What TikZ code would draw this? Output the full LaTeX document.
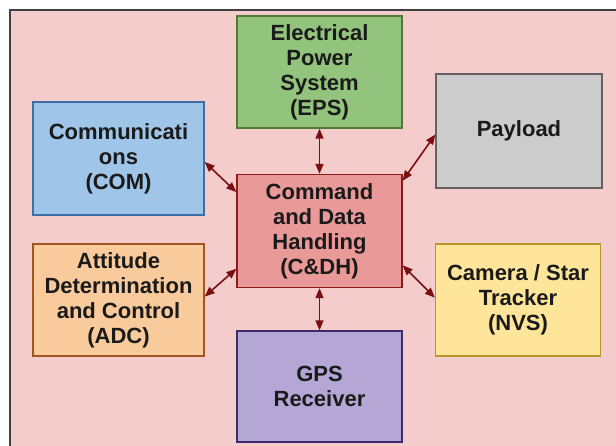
\documentclass[tikz,border=0pt]{standalone}
\usepackage{fontspec}
\setmainfont{Liberation Sans}
\usetikzlibrary{arrows.meta,calc}

\definecolor{bgpink}{HTML}{F4CCCC}
\definecolor{linkred}{HTML}{7A0F0F}
\definecolor{txtdark}{HTML}{1A1A1A}
\definecolor{epsfill}{HTML}{93C47D}\definecolor{epsline}{HTML}{4E7A32}
\definecolor{payfill}{HTML}{CCCCCC}\definecolor{payline}{HTML}{666060}
\definecolor{comfill}{HTML}{9FC5E8}\definecolor{comline}{HTML}{3D6FA6}
\definecolor{cdhfill}{HTML}{EA9999}\definecolor{cdhline}{HTML}{8E1B1B}
\definecolor{adcfill}{HTML}{F9CB9C}\definecolor{adcline}{HTML}{A0561C}
\definecolor{nvsfill}{HTML}{FFE599}\definecolor{nvsline}{HTML}{B8962E}
\definecolor{gpsfill}{HTML}{B4A7D6}\definecolor{gpsline}{HTML}{3E2A6E}

\tikzset{
  block/.style={draw, line width=1.3pt, align=center, inner sep=0pt,
    text=txtdark, font=\fontsize{22}{25}\selectfont\bfseries},
  link/.style={draw=linkred, line width=1.6pt,
    {Triangle[length=10pt,width=8pt]}-{Triangle[length=10pt,width=8pt]}}
}

\begin{document}
\begin{tikzpicture}[x=1pt,y=-1pt]
\useasboundingbox (0,0) rectangle (616,445);
\fill[white] (0,0) rectangle (616,445);
\begin{scope}
\clip (0,0) rectangle (616,445);
\draw[fill=bgpink, draw=black!75, line width=1.3pt] (10,10) rectangle (640,470);
\end{scope}

% subsystem blocks
\node[block, fill=epsfill, draw=epsline,
  minimum width=165pt, minimum height=112pt] (eps) at (319.5,72)
  {Electrical\\Power\\System\\(EPS)};
\node[block, fill=payfill, draw=payline,
  minimum width=166pt, minimum height=114pt] (pay) at (519,131)
  {Payload};
\node[block, fill=comfill, draw=comline,
  minimum width=171pt, minimum height=113pt] (com) at (118.5,158.5)
  {Communicati\\ons\\(COM)};
\node[block, fill=cdhfill, draw=cdhline,
  minimum width=165pt, minimum height=113pt] (cdh) at (319.5,231)
  {Command\\and Data\\Handling\\(C\&DH)};
\node[block, fill=adcfill, draw=adcline,
  minimum width=171pt, minimum height=112pt] (adc) at (118.5,300)
  {Attitude\\Determination\\and Control\\(ADC)};
\node[block, fill=nvsfill, draw=nvsline,
  minimum width=165pt, minimum height=112pt] (nvs) at (518,300)
  {Camera / Star\\Tracker\\(NVS)};
\node[block, fill=gpsfill, draw=gpsline,
  minimum width=165pt, minimum height=111pt] (gps) at (319.5,386.5)
  {GPS\\Receiver};

% attachment points on block borders
\coordinate (comR) at ($(com.north east)!0.53!(com.south east)$);
\coordinate (cdhLa) at ($(cdh.north west)!0.16!(cdh.south west)$);
\coordinate (adcR) at ($(adc.north east)!0.47!(adc.south east)$);
\coordinate (cdhLb) at ($(cdh.north west)!0.83!(cdh.south west)$);
\coordinate (payL) at ($(pay.north west)!0.53!(pay.south west)$);
\coordinate (cdhRa) at ($(cdh.north east)!0.06!(cdh.south east)$);
\coordinate (nvsL) at ($(nvs.north west)!0.48!(nvs.south west)$);
\coordinate (cdhRb) at ($(cdh.north east)!0.80!(cdh.south east)$);

% data links to C&DH
\draw[link] (eps.south) -- (cdh.north);
\draw[link] (gps.north) -- (cdh.south);
\draw[link] (comR) -- (cdhLa);
\draw[link] (adcR) -- (cdhLb);
\draw[link] (payL) -- (cdhRa);
\draw[link] (nvsL) -- (cdhRb);
\end{tikzpicture}
\end{document}
